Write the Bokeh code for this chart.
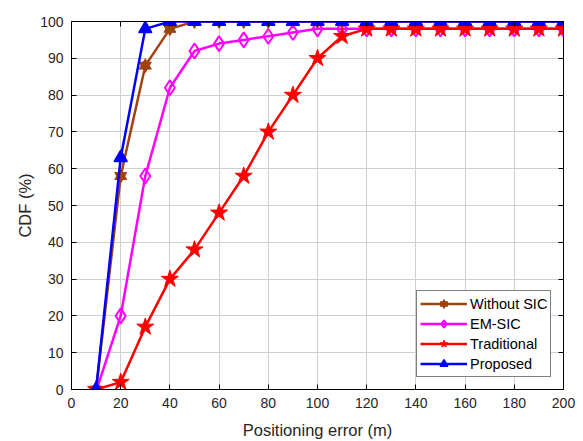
from bokeh.plotting import figure
from bokeh.models import (FixedTicker, LinearAxis, Legend, LegendItem, Range1d, CustomJSTickFormatter)
from bokeh.embed import file_html
from bokeh.resources import INLINE

x = [10, 20, 30, 40, 50, 60, 70, 80, 90, 100, 110, 120, 130, 140, 150, 160, 170, 180, 190, 200]
without_sic = [0, 58, 88, 98, 100, 100, 100, 100, 100, 100, 100, 100, 100, 100, 100, 100, 100, 100, 100, 100]
em_sic = [-0.5, 20, 58, 82, 92, 94, 95, 96, 97, 98, 98, 98, 98, 98, 98, 98, 98, 98, 98, 98]
traditional = [0, 2, 17, 30, 38, 48, 58, 70, 80, 90, 96, 98, 98, 98, 98, 98, 98, 98, 98, 98]
proposed = [0, 63, 98, 100, 100, 100, 100, 100, 100, 100, 100, 100, 100, 100, 100, 100, 100, 100, 100, 100]

x_ticks = [0, 20, 40, 60, 80, 100, 120, 140, 160, 180, 200]
y_ticks = [0, 10, 20, 30, 40, 50, 60, 70, 80, 90, 100]

FONT = "Liberation Sans"
BROWN = "#A0420E"

p = figure(width=583, height=441, output_backend="svg", toolbar_location=None,
           x_range=Range1d(0, 200), y_range=Range1d(0, 100),
           min_border_left=71, min_border_right=20, min_border_top=21, min_border_bottom=52,
           background_fill_color="white", border_fill_color="white")
p.outline_line_color = "black"
p.outline_line_width = 1

for ax in (p.xaxis[0], p.yaxis[0]):
    ax.major_tick_in = 5
    ax.major_tick_out = 0
    ax.minor_tick_in = 0
    ax.minor_tick_out = 0
    ax.axis_line_color = "black"
    ax.major_tick_line_color = "black"
    ax.major_label_text_font = FONT
    ax.major_label_text_font_size = "14px"
    ax.major_label_text_color = "#262626"
    ax.axis_label_text_font = FONT
    ax.axis_label_text_font_size = "16.5px"
    ax.axis_label_text_font_style = "normal"
    ax.axis_label_text_color = "#262626"
p.xaxis.ticker = FixedTicker(ticks=x_ticks)
p.yaxis.ticker = FixedTicker(ticks=y_ticks)
p.xaxis.axis_label = "Positioning error (m)"
p.yaxis.axis_label = "CDF (%)"
p.xaxis.major_label_standoff = 8
p.yaxis.major_label_standoff = 8
p.xaxis.axis_label_standoff = 10
p.yaxis.axis_label_standoff = 3

# mirrored axes (box on), tick marks only
blank = CustomJSTickFormatter(code="return ''")
top = LinearAxis(ticker=FixedTicker(ticks=x_ticks), formatter=blank,
                 major_tick_in=5, major_tick_out=0, minor_tick_in=0, minor_tick_out=0,
                 major_label_standoff=0, major_label_text_font_size="1px")
right = LinearAxis(ticker=FixedTicker(ticks=y_ticks), formatter=blank,
                   major_tick_in=5, major_tick_out=0, minor_tick_in=0, minor_tick_out=0,
                   major_label_standoff=0, major_label_text_font_size="1px")
p.add_layout(top, "above")
p.add_layout(right, "right")

p.xgrid.ticker = FixedTicker(ticks=x_ticks)
p.ygrid.ticker = FixedTicker(ticks=y_ticks)
p.grid.grid_line_color = "#d0d0d0"
p.grid.grid_line_width = 1

LW = 2.5

# Without SIC (hexagram via two triangles)
l1 = p.line(x, without_sic, line_color=BROWN, line_width=LW)
m1a = p.scatter(x, without_sic, marker="triangle", size=12, fill_color=BROWN, line_color=BROWN)
m1b = p.scatter(x, without_sic, marker="inverted_triangle", size=12, fill_color=BROWN, line_color=BROWN)

# EM-SIC
l2 = p.line(x, em_sic, line_color="magenta", line_width=LW)
m2 = p.scatter(x, em_sic, marker="diamond", size=15, fill_color="white", fill_alpha=0.0,
               line_color="magenta", line_width=2)

# Traditional
l3 = p.line(x, traditional, line_color="red", line_width=LW)
m3 = p.scatter(x, traditional, marker="star", size=18, fill_color="red", line_color="red")

# Proposed
l4 = p.line(x, proposed, line_color="blue", line_width=LW)
m4 = p.scatter(x, proposed, marker="triangle", size=13, fill_color="blue", line_color="blue",
               line_width=1.5)

legend = Legend(items=[
    LegendItem(label="Without SIC", renderers=[l1, m1a, m1b]),
    LegendItem(label="EM-SIC", renderers=[l2, m2]),
    LegendItem(label="Traditional", renderers=[l3, m3]),
    LegendItem(label="Proposed", renderers=[l4, m4]),
], location=(345, 12))
legend.label_text_font = FONT
legend.label_text_font_size = "14.5px"
legend.label_text_color = "black"
legend.glyph_width = 47
legend.glyph_height = 19
legend.label_height = 19
legend.spacing = 1
legend.padding = 3
legend.margin = 0
legend.label_standoff = 3
legend.border_line_color = "black"
legend.border_line_width = 1
legend.background_fill_color = "white"
legend.background_fill_alpha = 1.0
p.add_layout(legend, "center")

open("out.html", "w").write(file_html(p, INLINE))
